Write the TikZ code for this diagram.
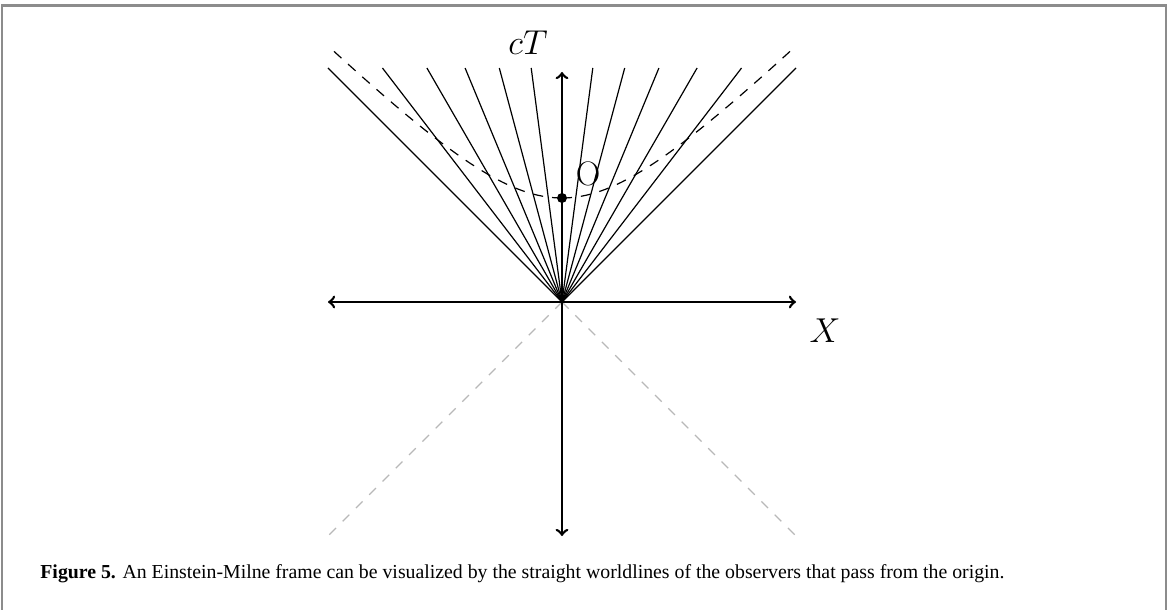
\documentclass[tikz,border=0pt]{standalone}
\usepackage{fontspec}
\newfontfamily\capfont{Liberation Serif}
\begin{document}
\begin{tikzpicture}[x=0.5pt,y=-0.5pt,
  axis/.style={line width=1.3pt},
  wline/.style={line width=0.6pt},
  hyp/.style={line width=0.6pt,dash pattern=on 5pt off 4.5pt},
  past/.style={line width=0.6pt,black!28,dash pattern=on 4.7pt off 4.7pt},
  lab/.style={font=\fontsize{17}{20}\selectfont, inner sep=0pt},
  frame/.style={black!45,line width=1.1pt}]
\useasboundingbox (0,0) rectangle (1168,610);
\draw[frame] (2,610) -- (2,5.5) -- (1166,5.5) -- (1166,610);
\coordinate (o) at (562,302);
\coordinate (xl) at (328,302);
\coordinate (xr) at (796,302);
\coordinate (tt) at (562,72);
\coordinate (tb) at (562,536);
\coordinate (pl) at (328,536);
\coordinate (pr) at (796,536);
% past light cone
\draw[past] (o) -- (pl);
\draw[past] (o) -- (pr);
% worldlines
\foreach \a [count=\i] in {-45,-37.5,-30,-22.5,-15,-7.5,7.5,15,22.5,30,37.5,45}{
  \coordinate (w\i) at ({562+234*tan(\a)},68);
  \draw[wline] (o) -- (w\i);
}
% hyperbola
\draw[hyp] plot[domain=0:234,samples=60] ({562+\x},{302-100*sqrt(1.0816+(\x/100)*(\x/100))});
\draw[hyp] plot[domain=0:-234,samples=60] ({562+\x},{302-100*sqrt(1.0816+(\x/100)*(\x/100))});
% axes
\draw[axis,<->] (xl) -- (xr);
\draw[axis,<->] (tb) -- (tt);
% observer
\node[circle,fill,inner sep=0pt,minimum size=5pt] (dot) at (562,198) {};
\node[lab,anchor=base] (olab) at (588,185) {O};
\node[lab,anchor=base] (ct) at (528,55) {$cT$};
\node[lab,anchor=base] (xlab) at (825,342) {$X$};
\node[anchor=base west,inner sep=0pt,font=\capfont\fontsize{9.9}{12}\selectfont] (cap) at (40,578)
  {\textbf{Figure 5.} An Einstein-Milne frame can be visualized by the straight worldlines of the observers that pass from the origin.};
\end{tikzpicture}
\end{document}
